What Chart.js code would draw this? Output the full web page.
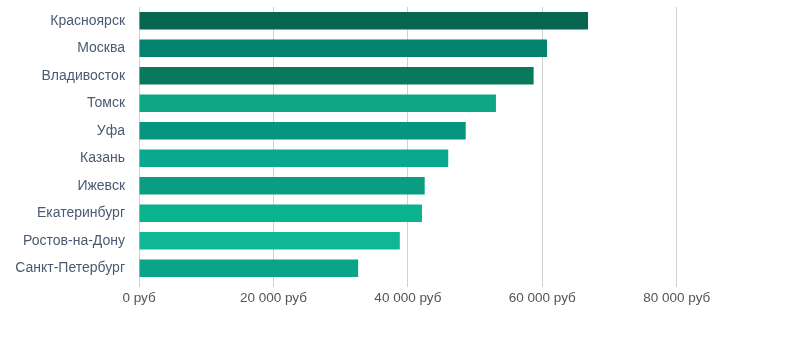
<!DOCTYPE html>
<html>
<head>
<meta charset="utf-8">
<script src="https://cdn.jsdelivr.net/npm/chart.js@4"></script>
<style>
  html, body { margin: 0; padding: 0; background: #fff; }
  #salaryChart { display: block; }
</style>
</head>
<body>
<canvas id="salaryChart" width="789" height="347"></canvas>
<script>
const cities = ['Красноярск', 'Москва', 'Владивосток', 'Томск', 'Уфа', 'Казань', 'Ижевск', 'Екатеринбург', 'Ростов-на-Дону', 'Санкт-Петербург'];
const salaries = [66800, 60700, 58700, 53100, 48600, 46000, 42500, 42100, 38800, 32600];
const barColors = ['#076650', '#048270', '#08795d', '#0da883', '#08957f', '#0aa88f', '#0a9d81', '#0ab38c', '#0fb797', '#0aa589'];
const xTicks = [0, 20000, 40000, 60000, 80000];

function rub(v) {
  return v.toString().replace(/\B(?=(\d{3})+(?!\d))/g, ' ') + ' руб';
}

const ctx = document.getElementById('salaryChart').getContext('2d');
const salaryChart = new Chart(ctx, {
  type: 'bar',
  data: {
    labels: cities,
    datasets: [{
      label: 'Зарплата',
      data: salaries,
      backgroundColor: barColors,
      borderWidth: 0,
      barPercentage: 0.8,
      categoryPercentage: 0.8
    }]
  },
  options: {
    indexAxis: 'y',
    responsive: false,
    animation: false,
    layout: { padding: { top: 7, right: 45, bottom: 35, left: 0 } },
    plugins: {
      legend: { display: false },
      tooltip: { enabled: false }
    },
    scales: {
      x: {
        min: 0,
        max: 90000,
        afterBuildTicks: (scale) => { scale.ticks = xTicks.map(v => ({ value: v })); },
        afterFit: (scale) => { scale.height = 30; },
        grid: { color: '#d0d0d0', lineWidth: 1, tickLength: 5, drawTicks: true },
        border: { display: false },
        ticks: {
          color: '#555',
          font: { family: 'Liberation Sans, Arial, sans-serif', size: 13.5 },
          padding: 3,
          callback: (v) => rub(v)
        }
      },
      y: {
        grid: { display: false, drawTicks: false },
        border: { display: false },
        afterFit: (scale) => {
          scale.width = 139;
          scale.paddingTop = 0;
          scale.paddingBottom = 0;
        },
        ticks: {
          color: '#4a5a72',
          font: { family: 'Liberation Sans, Arial, sans-serif', size: 14 },
          padding: 14
        }
      }
    }
  }
});
</script>
</body>
</html>
